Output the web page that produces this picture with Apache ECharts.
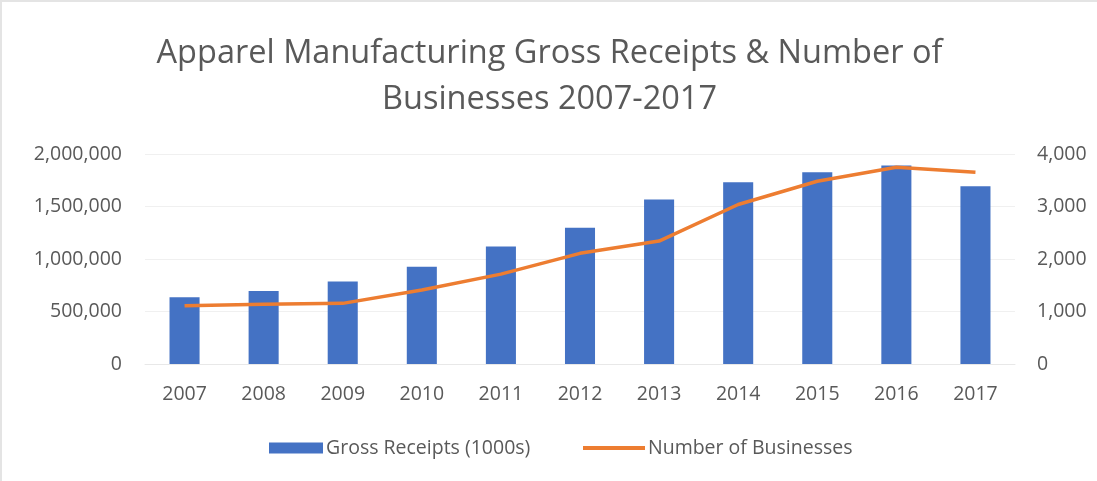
<!DOCTYPE html>
<html>
<head>
<meta charset="utf-8">
<script src="https://cdn.jsdelivr.net/npm/echarts@6/dist/echarts.min.js"></script>
<style>
  html, body { margin: 0; padding: 0; background: #fff; }
  #chart { width: 1097px; height: 481px; box-sizing: border-box; border-top: 2px solid #e4e4e4; border-left: 2px solid #e4e4e4; }
</style>
</head>
<body>
<div id="chart"></div>
<script>
  // categories
  const years = ['2007', '2008', '2009', '2010', '2011', '2012', '2013', '2014', '2015', '2016', '2017']
  // gross receipts (1000s), left axis
  const grossReceipts = [635000, 696000, 785000, 926000, 1119000, 1297000, 1566000, 1731000, 1826000, 1890000, 1693000]
  // number of businesses, right axis
  const businesses = [1110, 1140, 1155, 1410, 1712, 2108, 2342, 3038, 3481, 3747, 3652]

  const textColor = '#595959'
  const font = 'Open Sans'

  const chart = echarts.init(document.getElementById('chart'))
  chart.setOption({
    animation: false,
    textStyle: { fontFamily: font },
    title: {
      text: 'Apparel Manufacturing Gross Receipts & Number of\nBusinesses 2007-2017',
      left: 'center',
      top: 24,
      textStyle: { color: textColor, fontSize: 32.5, fontWeight: 'normal', fontFamily: font, lineHeight: 46 }
    },
    // two legends so the line swatch can be thinner than the bar swatch
    legend: [
      {
        left: 262,
        top: 431,
        itemWidth: 54,
        itemHeight: 11,
        textStyle: { color: textColor, fontSize: 19.5, fontFamily: font, padding: [0, 0, 0, -2] },
        data: [{ name: 'Gross Receipts (1000s)', icon: 'rect' }]
      },
      {
        left: 576,
        top: 431,
        itemWidth: 62,
        itemHeight: 4,
        textStyle: { color: textColor, fontSize: 19.5, fontFamily: font, padding: [0, 0, 0, -2] },
        data: [{ name: 'Number of Businesses', icon: 'rect' }]
      }
    ],
    grid: { left: 143, right: 82, top: 152, bottom: 117 },
    xAxis: {
      type: 'category',
      data: years,
      axisTick: { show: false },
      axisLine: { show: true, lineStyle: { color: '#e8e8e8' } },
      axisLabel: { color: textColor, fontSize: 19.5, margin: 20 }
    },
    yAxis: [
      {
        type: 'value',
        min: 0,
        max: 2000000,
        interval: 500000,
        axisLabel: {
          color: textColor,
          fontSize: 19.5,
          margin: 23,
          formatter: v => v.toLocaleString('en-US')
        },
        splitLine: { lineStyle: { color: '#f0f0f0' } }
      },
      {
        type: 'value',
        min: 0,
        max: 4000,
        interval: 1000,
        axisLabel: {
          color: textColor,
          fontSize: 19.5,
          margin: 22,
          formatter: v => v.toLocaleString('en-US')
        },
        splitLine: { show: false }
      }
    ],
    series: [
      {
        name: 'Gross Receipts (1000s)',
        type: 'bar',
        data: grossReceipts,
        barWidth: '38%',
        itemStyle: { color: '#4472C4' }
      },
      {
        name: 'Number of Businesses',
        type: 'line',
        yAxisIndex: 1,
        data: businesses,
        symbol: 'none',
        lineStyle: { color: '#ED7D31', width: 3.5 },
        itemStyle: { color: '#ED7D31' }
      }
    ]
  })
</script>
</body>
</html>
